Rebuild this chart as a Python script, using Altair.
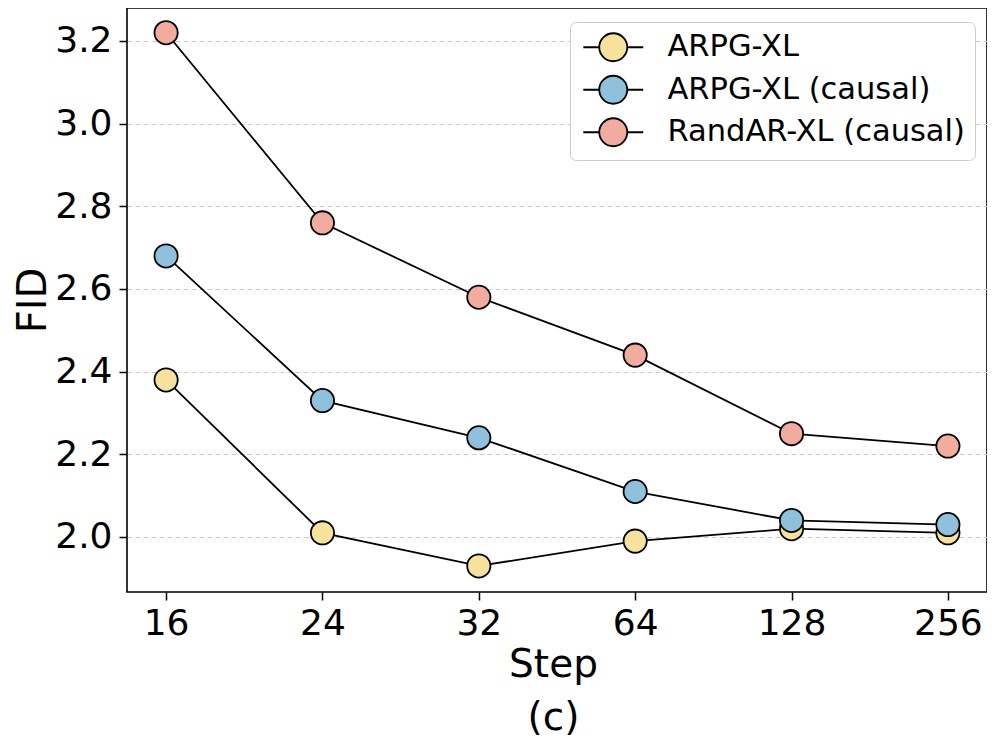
import altair as alt
import pandas as pd

steps = ["16", "24", "32", "64", "128", "256"]
series_names = ["ARPG-XL", "ARPG-XL (causal)", "RandAR-XL (causal)"]
arpg_xl = [2.38, 2.01, 1.93, 1.99, 2.02, 2.01]
arpg_xl_causal = [2.68, 2.33, 2.24, 2.11, 2.04, 2.03]
randar_xl_causal = [3.22, 2.76, 2.58, 2.44, 2.25, 2.22]
y_ticks = [2.0, 2.2, 2.4, 2.6, 2.8, 3.0, 3.2]
colors = ["#F6E29C", "#8FC1DC", "#F1AB9F"]

rows = []
for name, vals in zip(series_names, [arpg_xl, arpg_xl_causal, randar_xl_causal]):
    for s, v in zip(steps, vals):
        rows.append({"Step": s, "FID": v, "Model": name})
df = pd.DataFrame(rows)

FONT = "DejaVu Sans"

x = alt.X(
    "Step:O",
    sort=steps,
    scale=alt.Scale(type="point", padding=0.25),
    axis=alt.Axis(
        title=["Step", "(c)"],
        labelAngle=0,
        labelFont=FONT,
        labelFontSize=36,
        labelColor="black",
        labelPadding=6,
        tickSize=8,
        tickColor="black",
        tickWidth=1.5,
        domain=False,
        grid=False,
        titleFont=FONT,
        titleFontSize=39,
        titleFontWeight="normal",
        titleColor="black",
        titleLineHeight=53,
        titleBaseline="alphabetic",
        titleY=84,
        titleX=426,
    ),
)

y = alt.Y(
    "FID:Q",
    scale=alt.Scale(domain=[1.8669, 3.2798], nice=False, zero=False),
    axis=alt.Axis(
        values=y_ticks,
        format=".1f",
        title="FID",
        labelFont=FONT,
        labelFontSize=36,
        labelColor="black",
        labelPadding=7,
        tickSize=8,
        tickColor="black",
        tickWidth=1.5,
        domain=False,
        grid=True,
        gridColor="#cccccc",
        gridDash=[5, 3],
        gridWidth=1,
        titleFont=FONT,
        titleFontSize=40,
        titleFontWeight="normal",
        titleColor="black",
        titleBaseline="alphabetic",
        titleAlign="center",
        titleAngle=270,
        titleX=-82,
        titleY=292,
    ),
)

LEG_PATH = "M-2.14,0L-1,0M1,0L2.14,0M1,0A1,1,0,1,1,-1,0A1,1,0,1,1,1,0Z"

base = alt.Chart(df).encode(x=x, y=y)
lines = base.mark_line(color="black", strokeWidth=1.8).encode(detail="Model:N")
points = base.mark_circle(size=540, opacity=1, stroke="black", strokeWidth=1.8).encode(
    fill=alt.Fill(
        "Model:N",
        scale=alt.Scale(domain=series_names, range=colors),
        legend=alt.Legend(
            title=None,
            orient="none",
            legendX=443,
            legendY=14,
            symbolType=LEG_PATH,
            symbolSize=784,
            symbolStrokeColor="black",
            symbolStrokeWidth=1.8,
            symbolOffset=18,
            labelOffset=39,
            labelFont=FONT,
            labelFontSize=30.5,
            labelColor="black",
            labelLimit=0,
            padding=10,
            rowPadding=6.5,
            strokeColor="#cccccc",
            fillColor="white",
            cornerRadius=6,
        ),
    )
)

chart = (
    alt.layer(lines, points)
    .properties(
        width=860,
        height=584,
        autosize=alt.AutoSizeParams(type="none"),
        padding={"left": 119, "top": 0, "right": 0, "bottom": 146},
        background="white",
    )
    .configure_view(stroke="black", strokeWidth=1.6)
)

chart.save("out.html", embed_options={"renderer": "svg", "actions": False})
